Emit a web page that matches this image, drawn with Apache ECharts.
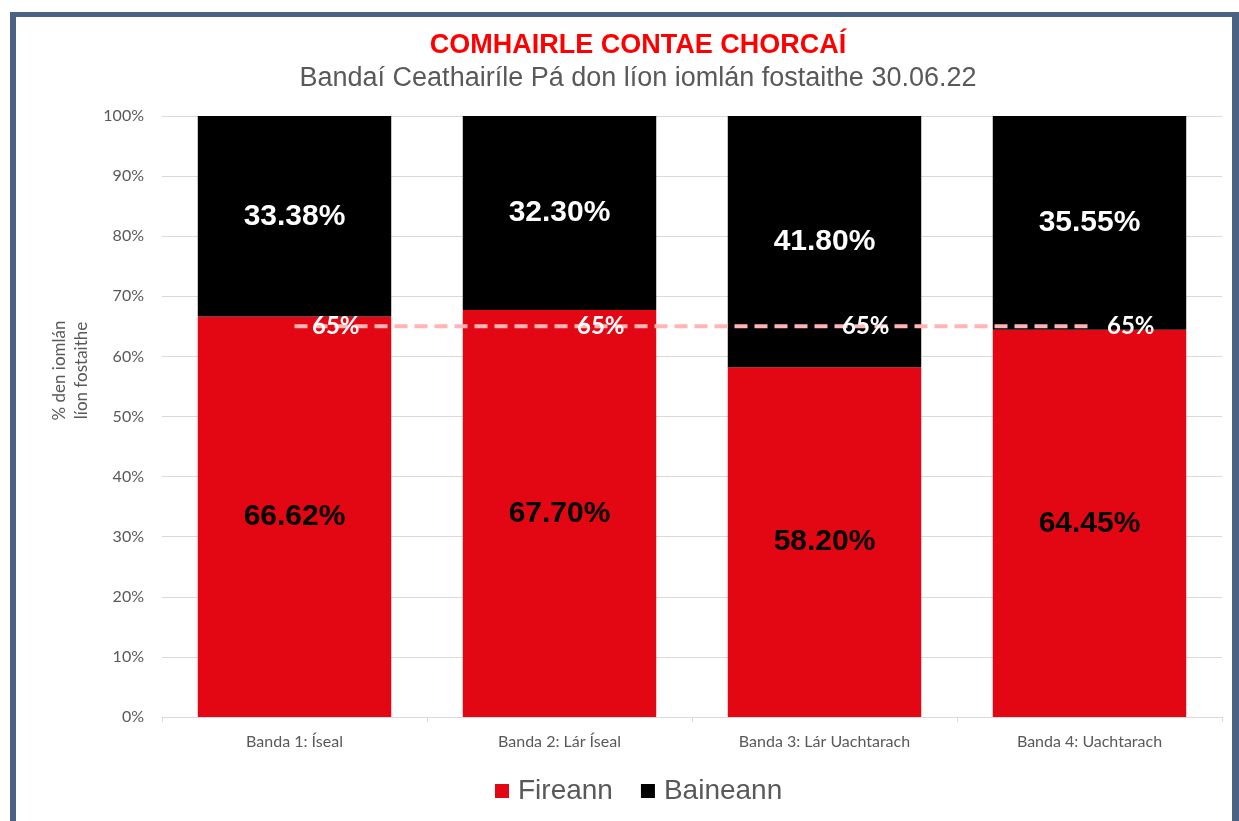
<!DOCTYPE html>
<html>
<head>
<meta charset="utf-8">
<script src="https://cdn.jsdelivr.net/npm/echarts@6/dist/echarts.min.js"></script>
<style>
    html, body { margin: 0; padding: 0; background: #fff; }
    #chart { position: absolute; left: 0; top: 0; width: 1239px; height: 821px; }
    /* blue frame round the chart */
    #frame {
        position: absolute; left: 10px; top: 12px; width: 1216px; height: 830px;
        border-left: 6px solid #4a6283; border-top: 5px solid #4a6283; border-right: 7px solid #4a6283;
        pointer-events: none;
    }
</style>
</head>
<body>
<div id="chart"></div>
<div id="frame"></div>
<script>
    // 数据
    var categories = ['Banda 1: Íseal', 'Banda 2: Lár Íseal', 'Banda 3: Lár Uachtarach', 'Banda 4: Uachtarach'];
    var fireann = [66.62, 67.70, 58.20, 64.45];
    var baineann = [33.38, 32.30, 41.80, 35.55];
    var target = [65, 65, 65, 65];

    var chart = echarts.init(document.getElementById('chart'));

    var option = {
        animation: false,
        title: [
            {
                text: 'COMHAIRLE CONTAE CHORCAÍ',
                left: 633, top: 27, textAlign: 'center',
                textStyle: { color: '#ff0000', fontSize: 27, fontWeight: 'bold', fontFamily: 'Arial, Liberation Sans, sans-serif' }
            },
            {
                text: 'Bandaí Ceathairíle Pá don líon iomlán fostaithe 30.06.22',
                left: 633, top: 60, textAlign: 'center',
                textStyle: { color: '#595959', fontSize: 27, fontWeight: 'normal', fontFamily: 'Arial, Liberation Sans, sans-serif' }
            }
        ],
        legend: {
            bottom: 11, left: 490,
            itemWidth: 14, itemHeight: 14, itemGap: 28,
            icon: 'rect',
            data: ['Fireann', 'Baineann'],
            textStyle: { color: '#595959', fontSize: 28, padding: [0, 0, 0, 4], fontFamily: 'Arial, Liberation Sans, sans-serif' }
        },
        grid: { left: 162, right: 17, top: 116, bottom: 104 },
        xAxis: {
            type: 'category',
            data: categories,
            axisLine: { lineStyle: { color: '#d9d9d9' } },
            axisTick: { show: true, lineStyle: { color: '#d9d9d9' } },
            axisLabel: { color: '#595959', fontSize: 16, margin: 17, fontFamily: 'Lato, sans-serif' }
        },
        yAxis: {
            type: 'value',
            min: 0, max: 100, interval: 10,
            name: '% den iomlán\nlíon fostaithe',
            nameLocation: 'middle', nameGap: 65, nameRotate: 90,
            nameTextStyle: {
                color: '#595959', fontSize: 17, lineHeight: 22, fontFamily: 'Lato, sans-serif',
                padding: [0, 0, 0, 92]
            },
            axisLine: { show: false },
            axisLabel: { formatter: '{value}%', color: '#595959', fontSize: 16, margin: 18, fontFamily: 'Lato, sans-serif' },
            splitLine: { lineStyle: { color: '#d9d9d9' } }
        },
        series: [
            {
                name: 'Fireann', type: 'bar', stack: 'total',
                barCategoryGap: '27%',
                itemStyle: { color: '#e30613' },
                label: {
                    show: true, position: 'inside',
                    formatter: function (p) { return p.value.toFixed(2) + '%'; },
                    color: '#000', fontSize: 30, fontWeight: 'bold', fontFamily: 'Arial, Liberation Sans, sans-serif'
                },
                data: fireann
            },
            {
                name: 'Baineann', type: 'bar', stack: 'total',
                itemStyle: { color: '#000' },
                label: {
                    show: true, position: 'inside',
                    formatter: function (p) { return p.value.toFixed(2) + '%'; },
                    color: '#fff', fontSize: 30, fontWeight: 'bold', fontFamily: 'Arial, Liberation Sans, sans-serif'
                },
                data: baineann
            },
            {
                name: '65%', type: 'line',
                symbol: 'circle', symbolSize: 1, showSymbol: true,
                itemStyle: { color: 'rgba(0,0,0,0)' },
                lineStyle: { color: '#ffb5b5', width: 4, type: [13, 7] },
                label: {
                    show: true, position: 'right', distance: 17, offset: [0, 3],
                    formatter: '{c}%',
                    color: '#fff', fontSize: 24, fontWeight: 'bold', fontFamily: 'Lato, sans-serif'
                },
                labelLayout: { hideOverlap: false },
                z: 5,
                data: target
            }
        ]
    };

    chart.setOption(option);
</script>
</body>
</html>
